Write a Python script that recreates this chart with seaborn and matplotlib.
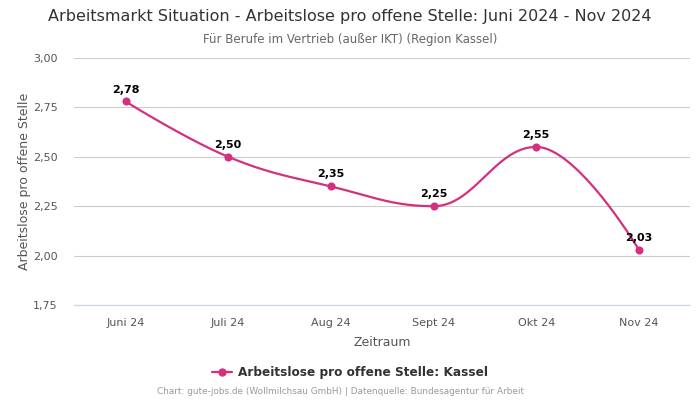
import numpy as np
import pandas as pd
import matplotlib
matplotlib.use("Agg")
import matplotlib.pyplot as plt
import seaborn as sns
from matplotlib.lines import Line2D

# Data
months = ["Juni 24", "Juli 24", "Aug 24", "Sept 24", "Okt 24", "Nov 24"]
values = [2.78, 2.50, 2.35, 2.25, 2.55, 2.03]
labels = ["2,78", "2,50", "2,35", "2,25", "2,55", "2,03"]
y_ticks = [1.75, 2.00, 2.25, 2.50, 2.75, 3.00]

color = "#d4307f"


def spline_controls(xs, ys, smoothing=1.5):
    # Highcharts-style spline control points
    n = len(xs)
    left = [(xs[i], ys[i]) for i in range(n)]
    right = [(xs[i], ys[i]) for i in range(n)]
    denom = smoothing + 1
    for i in range(1, n - 1):
        px, py = xs[i], ys[i]
        lx, ly = xs[i - 1], ys[i - 1]
        nx, ny = xs[i + 1], ys[i + 1]
        lcx = (smoothing * px + lx) / denom
        lcy = (smoothing * py + ly) / denom
        rcx = (smoothing * px + nx) / denom
        rcy = (smoothing * py + ny) / denom
        if rcx != lcx:
            corr = ((rcy - lcy) * (rcx - px)) / (rcx - lcx) + py - rcy
            lcy += corr
            rcy += corr
        if lcy > ly and lcy > py:
            lcy = max(ly, py)
            rcy = 2 * py - lcy
        elif lcy < ly and lcy < py:
            lcy = min(ly, py)
            rcy = 2 * py - lcy
        if rcy > ny and rcy > py:
            rcy = max(ny, py)
            lcy = 2 * py - rcy
        elif rcy < ny and rcy < py:
            rcy = min(ny, py)
            lcy = 2 * py - rcy
        left[i] = (lcx, lcy)
        right[i] = (rcx, rcy)
    cx, cy = [], []
    t = np.linspace(0, 1, 40)
    for i in range(n - 1):
        p0 = np.array([xs[i], ys[i]])
        p1 = np.array(right[i])
        p2 = np.array(left[i + 1])
        p3 = np.array([xs[i + 1], ys[i + 1]])
        seg = ((1 - t) ** 3)[:, None] * p0 + (3 * (1 - t) ** 2 * t)[:, None] * p1 \
            + (3 * (1 - t) * t ** 2)[:, None] * p2 + (t ** 3)[:, None] * p3
        cx.extend(seg[:, 0])
        cy.extend(seg[:, 1])
    return np.array(cx), np.array(cy)


x_idx = list(range(len(months)))
sx, sy = spline_controls(x_idx, values)
df_curve = pd.DataFrame({"x": sx, "y": sy})
df_pts = pd.DataFrame({"x": x_idx, "y": values})

sns.set_style("white")
plt.rcParams["font.family"] = ["DejaVu Sans"]

fig = plt.figure(figsize=(7, 4), dpi=100)
ax = fig.add_axes([0.106, 0.2375, 0.88, 0.6175])

sns.lineplot(data=df_curve, x="x", y="y", sort=False, color=color, linewidth=1.6, ax=ax, estimator=None)
sns.scatterplot(data=df_pts, x="x", y="y", color=color, s=34, edgecolor=color, linewidth=0, zorder=5, ax=ax)

for xi, yi, lab in zip(x_idx, values, labels):
    ax.annotate(lab, (xi, yi), xytext=(0, 5), textcoords="offset points",
                ha="center", va="bottom", fontsize=8, fontweight="bold", color="black")

ax.set_xlim(-0.5, len(months) - 0.5)
ax.set_ylim(1.75, 3.0)
ax.set_xticks(x_idx)
ax.set_xticklabels(months)
ax.set_yticks(y_ticks)
ax.set_yticklabels([f"{v:.2f}".replace(".", ",") for v in y_ticks])
ax.tick_params(axis="both", length=0, labelsize=8, colors="#555555")
ax.tick_params(axis="x", pad=9)
ax.tick_params(axis="y", pad=12)
ax.grid(axis="y", color="#cccccc", linewidth=0.8)
ax.axhline(1.75, color="#ccd6eb", linewidth=0.9, clip_on=False, zorder=1)
ax.set_axisbelow(True)
for s in ax.spines.values():
    s.set_visible(False)

ax.set_xlabel("Zeitraum", fontsize=9, color="#555555", labelpad=6)
ax.set_ylabel("Arbeitslose pro offene Stelle", fontsize=9, color="#555555", labelpad=1)

fig.text(0.5, 0.958, "Arbeitsmarkt Situation - Arbeitslose pro offene Stelle: Juni 2024 - Nov 2024",
         ha="center", va="center", fontsize=11.5, color="#333333")
fig.text(0.5, 0.902, "Für Berufe im Vertrieb (außer IKT) (Region Kassel)",
         ha="center", va="center", fontsize=8.5, color="#666666")

handle = Line2D([0], [0], color=color, marker="o", markersize=5, linewidth=1.6)
leg = fig.legend([handle], ["Arbeitslose pro offene Stelle: Kassel"], loc="center",
                 bbox_to_anchor=(0.5, 0.068), frameon=False, fontsize=8.7,
                 handlelength=1.6, handletextpad=0.5)
for t in leg.get_texts():
    t.set_fontweight("bold")
    t.set_color("#333333")

fig.text(0.486, 0.02, "Chart: gute-jobs.de (Wollmilchsau GmbH) | Datenquelle: Bundesagentur für Arbeit",
         ha="center", va="center", fontsize=6.4, color="#999999")

fig.savefig("out.png", dpi=100, facecolor="white")
